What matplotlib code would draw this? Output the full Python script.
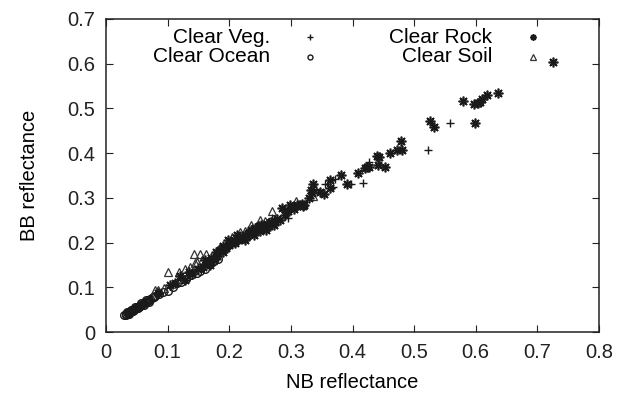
import matplotlib
matplotlib.use("Agg")
import matplotlib.pyplot as plt

plt.rcParams['font.family'] = ['Liberation Sans', 'DejaVu Sans']

# ---- data ----
veg_nb = [0.180, 0.195, 0.210, 0.230, 0.250, 0.270, 0.290, 0.296, 0.300, 0.305,
          0.340, 0.355, 0.369, 0.371, 0.397, 0.417, 0.426, 0.522, 0.558]
veg_bb = [0.176, 0.190, 0.205, 0.218, 0.235, 0.256, 0.270, 0.254, 0.278, 0.282,
          0.320, 0.330, 0.324, 0.342, 0.332, 0.333, 0.380, 0.408, 0.467]

ocean_nb = [0.030, 0.032, 0.033, 0.035, 0.036, 0.038, 0.039, 0.040, 0.042, 0.043,
            0.045, 0.046, 0.048, 0.050, 0.051, 0.053, 0.055, 0.056, 0.058, 0.060,
            0.062, 0.064, 0.066, 0.068, 0.070, 0.072, 0.074, 0.076, 0.078, 0.080,
            0.034, 0.037, 0.041, 0.044, 0.047, 0.052, 0.057, 0.061, 0.065, 0.069,
            0.086, 0.092, 0.101, 0.108, 0.115, 0.122, 0.130, 0.138, 0.147, 0.152,
            0.160, 0.168, 0.175, 0.182]
ocean_bb = [0.037, 0.039, 0.040, 0.041, 0.043, 0.044, 0.045, 0.046, 0.047, 0.049,
            0.050, 0.051, 0.053, 0.054, 0.056, 0.057, 0.059, 0.060, 0.062, 0.063,
            0.065, 0.067, 0.069, 0.070, 0.072, 0.074, 0.076, 0.078, 0.079, 0.081,
            0.044, 0.040, 0.049, 0.046, 0.055, 0.053, 0.064, 0.060, 0.071, 0.068,
            0.086, 0.090, 0.091, 0.101, 0.109, 0.112, 0.118, 0.128, 0.131, 0.136,
            0.140, 0.152, 0.158, 0.163]

rock_nb = [0.085, 0.104, 0.112, 0.120, 0.128, 0.135, 0.140, 0.150, 0.158, 0.160,
           0.165, 0.168, 0.170, 0.175, 0.178, 0.180, 0.185, 0.190, 0.190, 0.195,
           0.198, 0.200, 0.205, 0.207, 0.210, 0.212, 0.215, 0.218, 0.222, 0.225,
           0.226, 0.228, 0.232, 0.235, 0.238, 0.240, 0.242, 0.245, 0.248, 0.250,
           0.252, 0.255, 0.258, 0.260, 0.262, 0.265, 0.268, 0.272, 0.275, 0.278,
           0.282, 0.285, 0.290, 0.295, 0.299, 0.305, 0.310, 0.315, 0.318, 0.320,
           0.322, 0.329, 0.332, 0.334, 0.336, 0.348, 0.353, 0.364, 0.364, 0.381,
           0.391, 0.409, 0.421, 0.423, 0.426, 0.441, 0.452, 0.440, 0.443, 0.461,
           0.473, 0.481, 0.478, 0.526, 0.533, 0.599, 0.580, 0.597, 0.603, 0.607,
           0.610, 0.619, 0.636, 0.725]
rock_bb = [0.088, 0.105, 0.110, 0.125, 0.116, 0.135, 0.130, 0.140, 0.145, 0.160,
           0.155, 0.150, 0.165, 0.160, 0.178, 0.170, 0.183, 0.180, 0.192, 0.188,
           0.205, 0.195, 0.198, 0.205, 0.200, 0.218, 0.206, 0.212, 0.210, 0.218,
           0.206, 0.215, 0.222, 0.228, 0.225, 0.218, 0.232, 0.228, 0.236, 0.226,
           0.240, 0.232, 0.238, 0.228, 0.242, 0.236, 0.245, 0.240, 0.248, 0.252,
           0.251, 0.278, 0.262, 0.270, 0.284, 0.275, 0.285, 0.284, 0.286, 0.282,
           0.284, 0.300, 0.318, 0.310, 0.331, 0.312, 0.308, 0.339, 0.321, 0.352,
           0.332, 0.356, 0.366, 0.368, 0.370, 0.374, 0.368, 0.394, 0.392, 0.400,
           0.407, 0.407, 0.428, 0.471, 0.458, 0.468, 0.516, 0.510, 0.512, 0.515,
           0.520, 0.530, 0.535, 0.604]

soil_nb = [0.080, 0.085, 0.094, 0.101, 0.119, 0.128, 0.136, 0.142, 0.145, 0.147,
           0.153, 0.155, 0.163, 0.176, 0.178, 0.185, 0.195, 0.205, 0.217, 0.226,
           0.236, 0.245, 0.250, 0.258, 0.269, 0.308, 0.336]
soil_bb = [0.094, 0.094, 0.098, 0.134, 0.134, 0.140, 0.146, 0.174, 0.155, 0.157,
           0.174, 0.161, 0.174, 0.168, 0.175, 0.190, 0.195, 0.213, 0.224, 0.226,
           0.239, 0.232, 0.251, 0.248, 0.271, 0.292, 0.305]

labels = ["Clear Veg.", "Clear Rock", "Clear Ocean", "Clear Soil"]

fig = plt.figure(figsize=(6.17, 3.93), dpi=100)
ax = fig.add_axes([106 / 617, 61 / 393, 493 / 617, 313 / 393])

col = '#1a1a1a'
star = (8, 2, 0)
styles = {
    "Clear Veg.": dict(marker='+', ms=6, mew=1.0, mfc='none', mec=col),
    "Clear Rock": dict(marker=star, ms=7, mew=1.2, mfc='none', mec=col),
    "Clear Ocean": dict(marker='o', ms=5.5, mew=1.0, mfc='none', mec=col),
    "Clear Soil": dict(marker='^', ms=6, mew=0.9, mfc='none', mec='#333333'),
}

ax.plot(ocean_nb, ocean_bb, ls='none', **styles["Clear Ocean"])
ax.plot(soil_nb, soil_bb, ls='none', **styles["Clear Soil"])
ax.plot(rock_nb, rock_bb, ls='none', **styles["Clear Rock"])
ax.plot(veg_nb, veg_bb, ls='none', **styles["Clear Veg."])

# gnuplot-style key: right-aligned text followed by sample
key_pos = {"Clear Veg.": (0.333, 0.414, 0.942), "Clear Ocean": (0.333, 0.414, 0.879),
           "Clear Rock": (0.783, 0.866, 0.942), "Clear Soil": (0.783, 0.866, 0.879)}
for lab in labels:
    tx, mx, y = key_pos[lab]
    ax.text(tx, y, lab, transform=ax.transAxes, ha='right', va='center', fontsize=15)
    st = dict(styles[lab])
    st['ms'] = st['ms'] * 0.65
    ax.plot([mx], [y], transform=ax.transAxes, ls='none', clip_on=False, **st)

ax.set_xlim(0, 0.8)
ax.set_ylim(0, 0.7)
ax.set_xticks([0, 0.1, 0.2, 0.3, 0.4, 0.5, 0.6, 0.7, 0.8])
ax.set_xticklabels(["0", "0.1", "0.2", "0.3", "0.4", "0.5", "0.6", "0.7", "0.8"])
ax.set_yticks([0, 0.1, 0.2, 0.3, 0.4, 0.5, 0.6, 0.7])
ax.set_yticklabels(["0", "0.1", "0.2", "0.3", "0.4", "0.5", "0.6", "0.7"])
ax.tick_params(direction='in', top=True, right=True, length=5, width=0.8,
               labelsize=14.5, pad=8, colors='#222222')
for s in ax.spines.values():
    s.set_linewidth(1.1)
    s.set_color('#222222')

ax.set_xlabel("NB reflectance", fontsize=14.5, labelpad=8)
ax.set_ylabel("BB reflectance", fontsize=14.5, labelpad=20)

fig.savefig("out.png", dpi=100)
